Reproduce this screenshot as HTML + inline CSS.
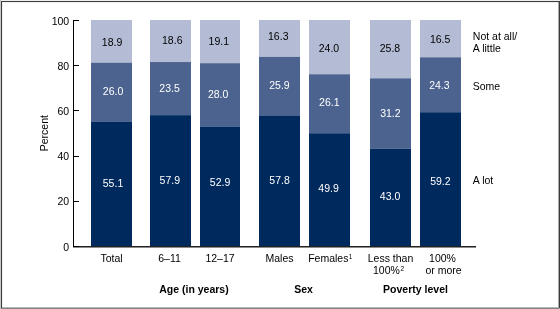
<!DOCTYPE html><html><head><meta charset="utf-8"><style>html,body{margin:0;padding:0;background:#fff;overflow:hidden;}svg{display:block;will-change:transform;}text{font-family:"Liberation Sans",sans-serif;}</style></head><body>
<svg width="560" height="309" viewBox="0 0 560 309" shape-rendering="crispEdges">
<rect x="0" y="0" width="560" height="309" fill="#fff"/>
<rect x="1" y="0" width="559" height="1" fill="#eeeeee"/>
<rect x="0" y="0" width="1" height="309" fill="#c8c8c8"/>
<rect x="1" y="1" width="558" height="1" fill="#3c3c3c"/>
<rect x="1" y="1" width="1" height="307" fill="#3c3c3c"/>
<rect x="2" y="2" width="556" height="1" fill="#f0f0f0"/>
<rect x="2" y="2" width="1" height="305" fill="#f0f0f0"/>
<rect x="558" y="2" width="1" height="305" fill="#a8a8a8"/>
<rect x="559" y="1" width="1" height="307" fill="#3c3c3c"/>
<rect x="2" y="307" width="557" height="1" fill="#b8b8b8"/>
<rect x="1" y="308" width="558" height="1" fill="#808080"/>
<rect x="559" y="308" width="1" height="1" fill="#b0b0b0"/>
<rect x="91" y="20.00" width="41" height="42.71" fill="#b4bcd5" shape-rendering="auto"/>
<rect x="91" y="62.71" width="41" height="58.76" fill="#4c638f" shape-rendering="auto"/>
<rect x="91" y="121.47" width="41" height="124.53" fill="#00295e" shape-rendering="auto"/>
<text x="112.08" y="45.67" font-size="10.5" fill="#000" text-anchor="middle">18.9</text>
<text x="113.09" y="95.33" font-size="10.5" fill="#fff" text-anchor="middle">26.0</text>
<text x="113.00" y="187.43" font-size="10.5" fill="#fff" text-anchor="middle">55.1</text>
<rect x="150" y="20.00" width="41" height="42.04" fill="#b4bcd5" shape-rendering="auto"/>
<rect x="150" y="62.04" width="41" height="53.11" fill="#4c638f" shape-rendering="auto"/>
<rect x="150" y="115.15" width="41" height="130.85" fill="#00295e" shape-rendering="auto"/>
<text x="172.26" y="44.27" font-size="10.5" fill="#000" text-anchor="middle">18.6</text>
<text x="169.56" y="92.33" font-size="10.5" fill="#fff" text-anchor="middle">23.5</text>
<text x="169.84" y="183.57" font-size="10.5" fill="#fff" text-anchor="middle">57.9</text>
<rect x="200" y="20.00" width="40" height="43.17" fill="#b4bcd5" shape-rendering="auto"/>
<rect x="200" y="63.17" width="40" height="63.28" fill="#4c638f" shape-rendering="auto"/>
<rect x="200" y="126.45" width="40" height="119.55" fill="#00295e" shape-rendering="auto"/>
<text x="218.79" y="44.52" font-size="10.5" fill="#000" text-anchor="middle">19.1</text>
<text x="218.14" y="97.97" font-size="10.5" fill="#fff" text-anchor="middle">28.0</text>
<text x="220.04" y="186.03" font-size="10.5" fill="#fff" text-anchor="middle">52.9</text>
<rect x="259" y="20.00" width="41" height="36.84" fill="#b4bcd5" shape-rendering="auto"/>
<rect x="259" y="56.84" width="41" height="58.53" fill="#4c638f" shape-rendering="auto"/>
<rect x="259" y="115.37" width="41" height="130.63" fill="#00295e" shape-rendering="auto"/>
<text x="278.26" y="40.38" font-size="10.5" fill="#000" text-anchor="middle">16.3</text>
<text x="279.48" y="89.17" font-size="10.5" fill="#fff" text-anchor="middle">25.9</text>
<text x="279.52" y="183.57" font-size="10.5" fill="#fff" text-anchor="middle">57.8</text>
<rect x="309" y="20.00" width="41" height="54.24" fill="#b4bcd5" shape-rendering="auto"/>
<rect x="309" y="74.24" width="41" height="58.99" fill="#4c638f" shape-rendering="auto"/>
<rect x="309" y="133.23" width="41" height="112.77" fill="#00295e" shape-rendering="auto"/>
<text x="328.94" y="52.33" font-size="10.5" fill="#000" text-anchor="middle">24.0</text>
<text x="329.30" y="105.78" font-size="10.5" fill="#fff" text-anchor="middle">26.1</text>
<text x="328.53" y="191.57" font-size="10.5" fill="#fff" text-anchor="middle">49.9</text>
<rect x="370" y="20.00" width="41" height="58.31" fill="#b4bcd5" shape-rendering="auto"/>
<rect x="370" y="78.31" width="41" height="70.51" fill="#4c638f" shape-rendering="auto"/>
<rect x="370" y="148.82" width="41" height="97.18" fill="#00295e" shape-rendering="auto"/>
<text x="389.96" y="52.17" font-size="10.5" fill="#000" text-anchor="middle">25.8</text>
<text x="390.41" y="117.47" font-size="10.5" fill="#fff" text-anchor="middle">31.2</text>
<text x="390.08" y="199.57" font-size="10.5" fill="#fff" text-anchor="middle">43.0</text>
<rect x="420" y="20.00" width="41" height="37.29" fill="#b4bcd5" shape-rendering="auto"/>
<rect x="420" y="57.29" width="41" height="54.92" fill="#4c638f" shape-rendering="auto"/>
<rect x="420" y="112.21" width="41" height="133.79" fill="#00295e" shape-rendering="auto"/>
<text x="440.15" y="42.77" font-size="10.5" fill="#000" text-anchor="middle">16.5</text>
<text x="439.37" y="89.42" font-size="10.5" fill="#fff" text-anchor="middle">24.3</text>
<text x="440.35" y="184.57" font-size="10.5" fill="#fff" text-anchor="middle">59.2</text>
<rect x="73" y="20" width="1" height="227" fill="#000"/>
<rect x="73" y="246" width="403" height="1" fill="#222"/>
<rect x="73" y="247" width="403" height="1" fill="#8a8a8a"/>
<rect x="73" y="246" width="6" height="1" fill="#000"/>
<text transform="translate(69.2,250.50) scale(1.0,1)" font-size="10.5" fill="#000" text-anchor="end">0</text>
<rect x="73" y="201" width="6" height="1" fill="#000"/>
<text transform="translate(69.2,205.30) scale(1.0,1)" font-size="10.5" fill="#000" text-anchor="end">20</text>
<rect x="73" y="156" width="6" height="1" fill="#000"/>
<text transform="translate(69.2,160.10) scale(1.0,1)" font-size="10.5" fill="#000" text-anchor="end">40</text>
<rect x="73" y="110" width="6" height="1" fill="#000"/>
<text transform="translate(69.2,114.90) scale(1.0,1)" font-size="10.5" fill="#000" text-anchor="end">60</text>
<rect x="73" y="65" width="6" height="1" fill="#000"/>
<text transform="translate(69.2,69.70) scale(1.0,1)" font-size="10.5" fill="#000" text-anchor="end">80</text>
<rect x="73" y="20" width="6" height="1" fill="#000"/>
<text transform="translate(69.2,24.50) scale(1.0,1)" font-size="10.5" fill="#000" text-anchor="end">100</text>
<text transform="translate(48.2,133.2) rotate(-90)" font-size="10.5" fill="#000" text-anchor="middle">Percent</text>
<text x="111.5" y="262.4" font-size="10.5" fill="#000" text-anchor="middle">Total</text>
<text x="169.5" y="262.4" font-size="10.5" fill="#000" text-anchor="middle">6–11</text>
<text x="220.0" y="262.4" font-size="10.5" fill="#000" text-anchor="middle">12–17</text>
<text x="279.5" y="262.4" font-size="10.5" fill="#000" text-anchor="middle">Males</text>
<text x="308.2" y="262.4" font-size="10.5" fill="#000">Females<tspan font-size="6.5" dy="-3.0" dx="0.2">1</tspan></text>
<text x="390.5" y="262.4" font-size="10.5" fill="#000" text-anchor="middle">Less than</text>
<text x="373.0" y="274.4" font-size="10.5" fill="#000">100%<tspan font-size="6.5" dy="-3.3" dx="0.6">2</tspan></text>
<text x="442.5" y="262.4" font-size="10.5" fill="#000" text-anchor="middle">100%</text>
<text x="443.5" y="274.4" font-size="10.5" fill="#000" text-anchor="middle">or more</text>
<text x="194" y="293.0" font-size="10.5" font-weight="bold" fill="#000" text-anchor="middle">Age (in years)</text>
<text x="303.6" y="293.0" font-size="10.5" font-weight="bold" fill="#000" text-anchor="middle">Sex</text>
<text x="415.5" y="293.0" font-size="10.5" font-weight="bold" fill="#000" text-anchor="middle">Poverty level</text>
<text x="472.8" y="40.1" font-size="10.5" fill="#000">Not at all/</text>
<text x="472.8" y="52.0" font-size="10.5" fill="#000">A little</text>
<text x="472.7" y="89.8" font-size="10.5" fill="#000">Some</text>
<text x="472.8" y="184.4" font-size="10.5" fill="#000">A lot</text>
</svg></body></html>
